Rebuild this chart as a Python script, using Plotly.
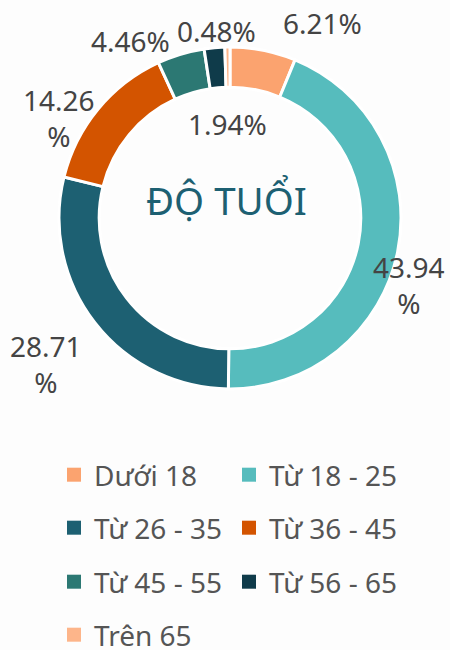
import plotly.graph_objects as go

labels = ["Dưới 18", "Từ 18 - 25", "Từ 26 - 35", "Từ 36 - 45", "Từ 45 - 55", "Từ 56 - 65", "Trên 65"]
values = [6.21, 43.94, 28.71, 14.26, 4.46, 1.94, 0.48]
colors = ["#FBA36F", "#56BCBD", "#1D6072", "#D35400", "#2C7873", "#0F3B4A", "#FDB58A"]
title_text = "ĐỘ TUỔI"

# label layout (pixel centres) and whether the % wraps to a second line
label_pos_px = [(322, 23), (409, 285), (46, 364), (59, 118), (130, 41), (227, 124), (216, 31)]
label_wrap = [False, True, True, True, False, False, False]
legend_rows_px = [475, 528, 582, 635]

W, H = 450, 650

fig = go.Figure()
fig.add_trace(go.Pie(
    labels=labels,
    values=values,
    sort=False,
    direction="clockwise",
    rotation=0,
    hole=0.765,
    marker=dict(colors=colors, line=dict(color="#ffffff", width=3)),
    textinfo="none",
    hoverinfo="none",
    domain=dict(x=[58 / W, 402 / W], y=[1 - 389 / H, 1 - 47 / H]),
    showlegend=False,
))

# value labels
for v, (px, py), wrap in zip(values, label_pos_px, label_wrap):
    txt = f"{v:.2f}<br>%" if wrap else f"{v:.2f}%"
    fig.add_annotation(
        text=txt, x=px / W, y=1 - py / H, xref="paper", yref="paper",
        xanchor="center", yanchor="middle", align="center", showarrow=False,
        font=dict(size=28, color="#444444", family="Noto Sans"),
    )

fig.add_annotation(
    text=title_text, x=226 / W, y=1 - 200 / H, xref="paper", yref="paper",
    xanchor="center", yanchor="middle", showarrow=False,
    font=dict(size=38.5, color="#1D6072", family="Noto Sans"),
)

# legend entries: two per row
legend_names = ["legend", "legend2", "legend3", "legend4"]
for i, (lab, col) in enumerate(zip(labels, colors)):
    fig.add_trace(go.Scatter(
        x=[None], y=[None], mode="markers", name=lab,
        marker=dict(symbol="square", size=14, color=col),
        legend=legend_names[i // 2], showlegend=True, hoverinfo="skip",
    ))

legend_common = dict(
    orientation="h", xanchor="left", yanchor="middle",
    entrywidth=130, entrywidthmode="pixels",
    font=dict(size=28, color="#555555", family="Noto Sans"),
    bgcolor="rgba(0,0,0,0)", itemclick=False, itemdoubleclick=False,
)
legend_layout = {}
for name, ry in zip(legend_names, legend_rows_px):
    legend_layout[name] = dict(legend_common, x=54 / W, y=1 - ry / H)

fig.update_layout(
    width=W, height=H,
    margin=dict(l=0, r=0, t=0, b=0, autoexpand=False),
    paper_bgcolor="#fdfdfd",
    plot_bgcolor="#fdfdfd",
    font=dict(family="Noto Sans", color="#555555"),
    xaxis=dict(visible=False),
    yaxis=dict(visible=False),
    hovermode=False,
    **legend_layout,
)

fig.write_html(
    "out.html",
    config={"displayModeBar": False},
    post_script="document.body.style.margin='0';document.body.style.overflow='hidden';"
                "document.documentElement.style.overflow='hidden';",
)
